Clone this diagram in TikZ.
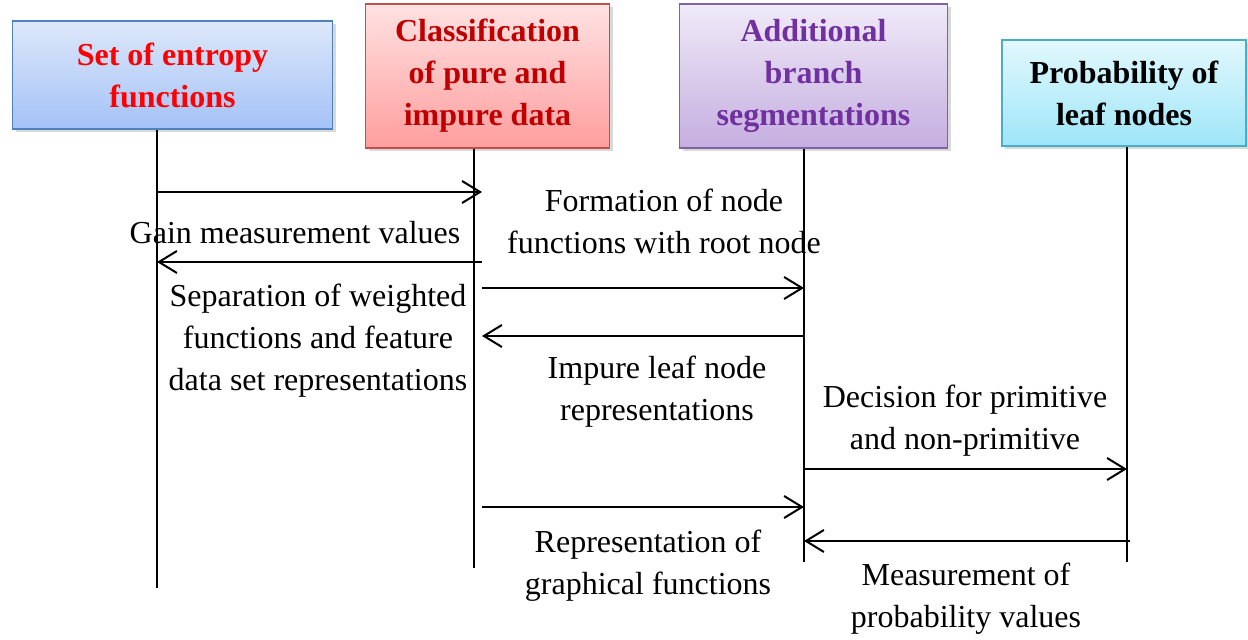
\documentclass[tikz,border=0pt]{standalone}
\usepackage{fontspec}
\setmainfont{Liberation Serif}
\usetikzlibrary{arrows.meta,shadows}
\definecolor{entropyline}{HTML}{4F81BD}
\definecolor{entropytop}{HTML}{DDE8FA}
\definecolor{entropybot}{HTML}{A4C2F7}
\definecolor{classline}{HTML}{C0504D}
\definecolor{classtop}{HTML}{FFE2E2}
\definecolor{classbot}{HTML}{FF9E9E}
\definecolor{classtext}{HTML}{C00000}
\definecolor{branchline}{HTML}{8064A2}
\definecolor{branchtop}{HTML}{F0EAF8}
\definecolor{branchbot}{HTML}{C5AEE0}
\definecolor{branchtext}{HTML}{7030A0}
\definecolor{leafline}{HTML}{4BACC6}
\definecolor{leaftop}{HTML}{E2F8FD}
\definecolor{leafbot}{HTML}{9EE6F8}
\newlength{\BoxLine}
\setlength{\BoxLine}{0.8pt}
\tikzset{
  actor box/.style={draw, line width=\BoxLine, align=center, inner sep=0pt,
    font=\fontsize{16}{21}\selectfont\bfseries,
    drop shadow={shadow xshift=1.5pt, shadow yshift=-1.5pt, opacity=0.3}},
  life line/.style={line width=1pt},
  message/.style={line width=1pt, -{Straight Barb[length=9pt, width=11pt, line width=1pt]}},
  message label/.style={align=center, inner sep=0pt, font=\fontsize{16}{21}\selectfont},
}

\begin{document}
\begin{tikzpicture}[x=0.5pt, y=-0.5pt]
  \useasboundingbox (0,0) rectangle (1248,640);

  % participants
  \node[actor box, text=red, draw=entropyline, top color=entropytop, bottom color=entropybot,
    minimum width=160pt, minimum height=54pt] (entropy) at (172.5,75) {Set of entropy\\functions};
  \node[actor box, text=classtext, draw=classline, top color=classtop, bottom color=classbot,
    minimum width=122pt, minimum height=72pt] (classify) at (487.5,76) {Classification\\of pure and\\impure data};
  \node[actor box, text=branchtext, draw=branchline, top color=branchtop, bottom color=branchbot,
    minimum width=134pt, minimum height=72pt] (branch) at (813.5,76) {Additional\\branch\\segmentations};
  \node[actor box, text=black, draw=leafline, top color=leaftop, bottom color=leafbot,
    minimum width=122pt, minimum height=53pt] (leaf) at (1124,93) {Probability of\\leaf nodes};

  % life lines
  \coordinate (entropy end) at (157,588);
  \coordinate (classify end) at (474,568);
  \coordinate (branch end) at (804,562);
  \coordinate (leaf end) at (1127,562);
  \draw[life line] (entropy end |- entropy.south) -- (entropy end);
  \draw[life line] (classify end |- classify.south) -- (classify end);
  \draw[life line] (branch end |- branch.south) -- (branch end);
  \draw[life line] (leaf end |- leaf.south) -- (leaf end);

  % messages
  \coordinate (m1a) at (157,192);  \coordinate (m1b) at (482,192);
  \coordinate (m2a) at (482,262);  \coordinate (m2b) at (157,262);
  \coordinate (m3a) at (482,288);  \coordinate (m3b) at (804,288);
  \coordinate (m4a) at (804,336);  \coordinate (m4b) at (482,336);
  \coordinate (m5a) at (804,469);  \coordinate (m5b) at (1127,469);
  \coordinate (m6a) at (482,507);  \coordinate (m6b) at (804,507);
  \coordinate (m7a) at (1130,541); \coordinate (m7b) at (804,541);
  \foreach \m in {m1,m2,m3,m4,m5,m6,m7}
    \draw[message] (\m a) -- (\m b);

  % labels
  \node[message label] (gain) at (295,233) {Gain measurement values};
  \node[message label] (formation) at (664,221) {Formation of node\\functions with root node};
  \node[message label] (separation) at (318,341) {Separation of weighted\\functions and feature\\data set representations};
  \node[message label] (impure) at (657,392) {Impure leaf node\\representations};
  \node[message label] (decision) at (965,421) {Decision for primitive\\and non-primitive};
  \node[message label] (graphical) at (648,566) {Representation of\\graphical functions};
  \node[message label] (probability) at (966,599) {Measurement of\\probability values};
\end{tikzpicture}
\end{document}
